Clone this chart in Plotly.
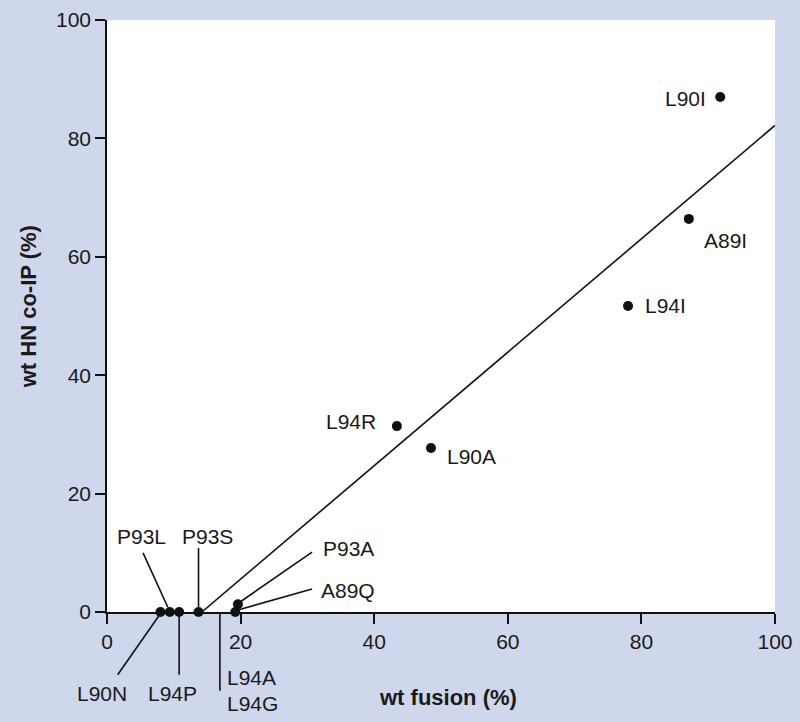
import plotly.graph_objects as go

# ---- data ----
mutants = ["L90I", "A89I", "L94I", "L94R", "L90A", "P93A", "A89Q",
           "L90N", "P93L", "L94P", "P93S"]
wt_fusion = [91.8, 87.1, 78.0, 43.4, 48.5, 19.6, 19.2, 8.0, 9.4, 10.8, 13.7]
wt_coip = [87.0, 66.4, 51.7, 31.4, 27.7, 1.3, 0.0, 0.0, 0.0, 0.0, 0.0]

fit_x = [14.2, 100.0]
fit_y = [0.0, 82.2]

x_ticks = [0, 20, 40, 60, 80, 100]
y_ticks = [0, 20, 40, 60, 80, 100]

# ---- layout of labels (positions in data units) ----
XR = (0, 100)
YR = (0, 100)
FONT = "Liberation Sans, Arial, Helvetica, sans-serif"
BG = "#ced7eb"

labels = [
    # text, x, y, xanchor
    ("L90I", 90.0, 86.8, "right"),
    ("A89I", 89.0, 62.8, "left"),
    ("L94I", 80.3, 51.7, "left"),
    ("L94R", 40.6, 32.1, "right"),
    ("L90A", 50.6, 26.2, "left"),
    ("P93A", 32.0, 10.7, "left"),
    ("A89Q", 31.7, 3.7, "left"),
    ("P93L", 5.2, 12.8, "center"),
    ("P93S", 15.1, 12.8, "center"),
    ("L90N", -0.7, -13.7, "center"),
    ("L94P", 9.8, -13.7, "center"),
    ("L94A", 17.6, -11.1, "left"),
    ("L94G", 17.6, -15.4, "left"),
]

leaders = [
    (5.4, 10.0, 9.1, 0.8),     # P93L
    (13.7, 10.8, 13.7, 0.85),  # P93S
    (30.7, 10.1, 19.8, 1.6),   # P93A
    (30.7, 3.9, 19.6, 0.35),   # A89Q
    (1.6, -10.6, 7.8, -0.6),   # L90N
    (10.8, -0.7, 10.8, -10.6), # L94P
    (16.9, 0.0, 16.9, -13.3),  # L94A / L94G
]


def px(x):
    return (x - XR[0]) / (XR[1] - XR[0])


def py(y):
    return (y - YR[0]) / (YR[1] - YR[0])


fig = go.Figure()

fig.add_trace(go.Scatter(x=fit_x, y=fit_y, mode="lines",
                         line=dict(color="#111111", width=1.6),
                         hoverinfo="skip", showlegend=False))

fig.add_trace(go.Scatter(x=wt_fusion, y=wt_coip, mode="markers",
                         text=mutants,
                         marker=dict(color="#111111", size=10),
                         cliponaxis=False, showlegend=False))

shapes = []
for x0, y0, x1, y1 in leaders:
    shapes.append(dict(type="line", xref="paper", yref="paper",
                       x0=px(x0), y0=py(y0), x1=px(x1), y1=py(y1),
                       line=dict(color="#111111", width=1.6)))

annotations = []
for t, x, y, xa in labels:
    annotations.append(dict(text=t, x=px(x), y=py(y), xref="paper", yref="paper",
                            xanchor=xa, yanchor="middle", showarrow=False,
                            font=dict(family=FONT, size=21, color="#1a1a1a")))

annotations.append(dict(text="<b>wt fusion (%)</b>", xref="paper", yref="paper",
                        x=0.51, y=-0.144, xanchor="center", yanchor="middle",
                        showarrow=False,
                        font=dict(family=FONT, size=22, color="#1a1a1a")))
annotations.append(dict(text="<b>wt HN co-IP (%)</b>", xref="paper", yref="paper",
                        x=-0.118, y=0.515, xanchor="center", yanchor="middle",
                        textangle=-90, showarrow=False,
                        font=dict(family=FONT, size=22, color="#1a1a1a")))

axis_style = dict(ticks="outside", ticklen=10, tickwidth=1.5,
                  tickcolor="#111111", showgrid=False, zeroline=False,
                  showline=True, linecolor="#111111", linewidth=1.6,
                  automargin=False,
                  tickfont=dict(family=FONT, size=21, color="#1a1a1a"))

fig.update_layout(
    width=800, height=722,
    margin=dict(l=107, r=25, t=20, b=110),
    paper_bgcolor=BG, plot_bgcolor="white",
    shapes=shapes, annotations=annotations,
    font=dict(family=FONT, size=21, color="#1a1a1a"),
    xaxis=dict(range=list(XR), tickvals=x_ticks, **axis_style),
    yaxis=dict(range=list(YR), tickvals=y_ticks, **axis_style),
)

fig.write_html("out.html",
               config={"displayModeBar": False},
               post_script="document.body.style.margin='0';"
                           "document.body.style.overflow='hidden';")
